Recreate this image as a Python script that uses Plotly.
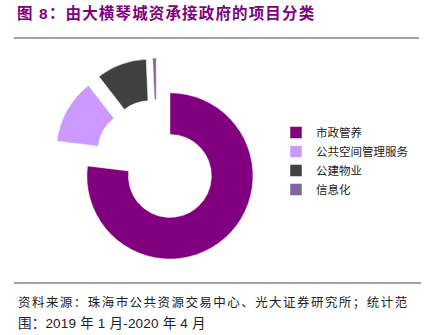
import plotly.graph_objects as go

# Data
categories = ["市政管养", "公共空间管理服务", "公建物业", "信息化"]
counts = [110, 18, 14, 1]
colors = ["#800080", "#CC99FF", "#404040", "#8064A2"]

title_text = "图 8：由大横琴城资承接政府的项目分类"
source_line1 = "资料来源：珠海市公共资源交易中心、光大证券研究所；统计范"
source_line2 = "围：2019 年 1 月-2020 年 4 月"

W, H = 428, 335
cx, cy = 156.7, 161.0   # pie center (px from top-left)
half = 103.0            # half of domain size in px

fig = go.Figure(go.Pie(
    labels=categories,
    values=counts,
    marker=dict(colors=colors, line=dict(color="white", width=0.5)),
    hole=0.5,
    pull=[0.24, 0.24, 0.24, 0.24],
    sort=False,
    direction="clockwise",
    rotation=0,
    textinfo="none",
    hoverinfo="label+value",
    domain=dict(x=[(cx - half) / W, (cx + half) / W],
                y=[1 - (cy + half) / H, 1 - (cy - half) / H]),
))

font_cjk = "Liberation Sans, Noto Sans CJK SC, sans-serif"

fig.update_layout(
    width=W, height=H,
    margin=dict(l=0, r=0, t=0, b=0),
    paper_bgcolor="white",
    plot_bgcolor="white",
    title=dict(text="<b>" + title_text + "</b>", x=17 / W, xanchor="left", xref="paper",
               y=1 - 14 / H, yref="container", yanchor="middle",
               font=dict(family=font_cjk, size=15.5, color="#800080")),
    legend=dict(x=276 / W, xanchor="left", y=1 - 161 / H, yanchor="middle",
                font=dict(family="Noto Sans CJK SC, sans-serif", size=11.5, color="#222222"),
                bgcolor="rgba(0,0,0,0)"),
    shapes=[
        dict(type="line", xref="paper", yref="paper", x0=14 / W, x1=419 / W,
             y0=1 - 38 / H, y1=1 - 38 / H, line=dict(color="#444444", width=1.2)),
        dict(type="line", xref="paper", yref="paper", x0=14 / W, x1=421 / W,
             y0=1 - 283 / H, y1=1 - 283 / H, line=dict(color="#444444", width=1.2)),
    ],
    annotations=[
        dict(text=source_line1, x=16 / W, y=1 - 302 / H, xref="paper", yref="paper",
             xanchor="left", yanchor="middle", align="left", showarrow=False,
             font=dict(family=font_cjk, size=12.5, color="#222222")),
        dict(text=source_line2, x=16 / W, y=1 - 323 / H, xref="paper", yref="paper",
             xanchor="left", yanchor="middle", align="left", showarrow=False,
             font=dict(family=font_cjk, size=13.5, color="#222222")),
    ],
)

# widen character spacing of title and source to match the reference's justified text
post = """
var gd = document.getElementsByClassName('plotly-graph-div')[0];
function spacing(){
  var t = gd.querySelector('.gtitle');
  if (t) { t.setAttribute('letter-spacing', '1.15'); }
  var ann = gd.querySelectorAll('.annotation-text');
  if (ann.length > 0) { ann[0].setAttribute('letter-spacing', '1.45'); }
  if (ann.length > 1) { ann[1].setAttribute('letter-spacing', '0.2'); }
}
spacing();
gd.on('plotly_afterplot', spacing);
"""

fig.write_html("out.html", post_script=post)
